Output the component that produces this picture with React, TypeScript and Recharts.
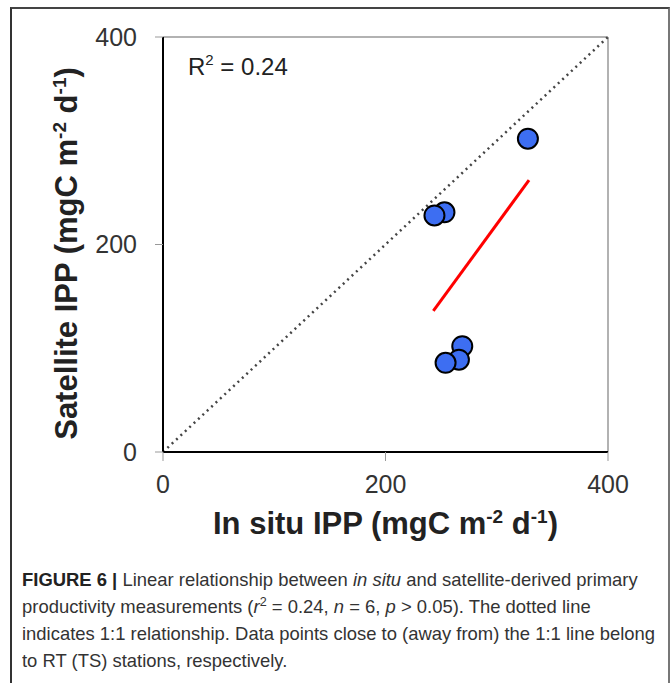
import React from "react";
import {
  Label,
  ReferenceLine,
  Scatter,
  ScatterChart,
  XAxis,
  YAxis,
} from "recharts";

// in situ vs satellite IPP (mgC m-2 d-1)
const inSitu = [328, 253, 244, 269, 266, 254];
const satellite = [302, 231, 228, 102, 89, 86];
// ends of the fitted regression line
const fitX = [243, 329];
const fitY = [136, 262];
const axisTicks = [0, 200, 400];

const points = inSitu.map((x, i) => ({ x, y: satellite[i] }));
const fit = fitX.map((x, i) => ({ x, y: fitY[i] }));

const FONT = '"Liberation Sans", Arial, sans-serif';

const Dot = (props: any) => (
  <circle
    cx={props.cx}
    cy={props.cy}
    r={10}
    fill="#3d6ef2"
    stroke="#000"
    strokeWidth={2}
  />
);

const XTitle = (props: any) => {
  const vb = props.viewBox;
  return (
    <text
      x={vb.x + vb.width / 2}
      y={vb.y + vb.height + 42}
      textAnchor="middle"
      fontFamily={FONT}
      fontWeight="bold"
      fontSize={31}
      fill="#222"
    >
      In situ IPP (mgC m
      <tspan dy={-11} fontSize={19}>-2</tspan>
      <tspan dy={11}> d</tspan>
      <tspan dy={-11} fontSize={19}>-1</tspan>
      <tspan dy={11}>)</tspan>
    </text>
  );
};

const YTitle = (props: any) => {
  const vb = props.viewBox;
  const x = 77;
  const y = vb.y + vb.height / 2 + 9;
  return (
    <text
      x={x}
      y={y}
      transform={`rotate(-90 ${x} ${y})`}
      textAnchor="middle"
      fontFamily={FONT}
      fontWeight="bold"
      fontSize={31}
      fill="#222"
    >
      Satellite IPP (mgC m
      <tspan dy={-11} fontSize={19}>-2</tspan>
      <tspan dy={11}> d</tspan>
      <tspan dy={-11} fontSize={19}>-1</tspan>
      <tspan dy={11}>)</tspan>
    </text>
  );
};

export default function App() {
  return (
    <div
      style={{
        position: "absolute",
        left: 0,
        top: 0,
        width: 670,
        height: 683,
        overflow: "hidden",
        background: "#fff",
      }}
    >
      <div
        style={{
          position: "absolute",
          left: 10,
          top: 7,
          width: 656,
          height: 700,
          borderTop: "2px solid #444",
          borderLeft: "2px solid #333",
          borderRight: "2px solid #777",
        }}
      />
      <ScatterChart
        width={670}
        height={560}
        margin={{ top: 37, right: 62, bottom: 68, left: 103 }}
        style={{ position: "absolute", left: 0, top: 0 }}
      >
        <XAxis
          type="number"
          dataKey="x"
          domain={[0, 400]}
          ticks={axisTicks}
          height={40}
          axisLine={{ stroke: "#000", strokeWidth: 2 }}
          tickLine={{ stroke: "#999" }}
          tickSize={9}
          tickMargin={14}
          tick={{ fill: "#333", fontSize: 25, fontFamily: FONT }}
        >
          <Label content={XTitle} />
        </XAxis>
        <YAxis
          type="number"
          dataKey="y"
          domain={[0, 400]}
          ticks={axisTicks}
          width={60}
          axisLine={{ stroke: "#000", strokeWidth: 2 }}
          tickLine={{ stroke: "#999" }}
          tickSize={8}
          tickMargin={18}
          tick={{ fill: "#333", fontSize: 25, fontFamily: FONT }}
        >
          <Label content={YTitle} />
        </YAxis>
        <ReferenceLine y={400} stroke="#999" strokeWidth={1.5} />
        <ReferenceLine x={400} stroke="#999" strokeWidth={1.5} />
        <ReferenceLine
          segment={[
            { x: 0, y: 0 },
            { x: 400, y: 400 },
          ]}
          stroke="#444"
          strokeWidth={2.5}
          strokeDasharray="2 4"
        />
        <Scatter
          data={fit}
          line={{ stroke: "#f00", strokeWidth: 3 }}
          shape={() => <g />}
          isAnimationActive={false}
        />
        <Scatter data={points} shape={Dot} isAnimationActive={false} />
      </ScatterChart>
      <div
        style={{
          position: "absolute",
          left: 188,
          top: 53,
          fontFamily: FONT,
          fontSize: 24,
          color: "#222",
          whiteSpace: "nowrap",
        }}
      >
        R<sup style={{ fontSize: 15, verticalAlign: 10, lineHeight: 0 }}>2</sup> = 0.24
      </div>
      <div
        style={{
          position: "absolute",
          left: 22,
          top: 566,
          fontFamily: FONT,
          fontSize: 19,
          lineHeight: "27px",
          color: "#333",
          whiteSpace: "nowrap",
          transform: "scaleX(0.97)",
          transformOrigin: "0 0",
        }}
      >
        <b style={{ color: "#222" }}>FIGURE 6 |</b> Linear relationship between{" "}
        <i>in situ</i> and satellite-derived primary
        <br />
        productivity measurements (<i>r</i>
        <sup style={{ fontSize: 13, lineHeight: 0 }}>2</sup> = 0.24, <i>n</i> = 6,{" "}
        <i>p</i> &gt; 0.05). The dotted line
        <br />
        indicates 1:1 relationship. Data points close to (away from) the 1:1 line belong
        <br />
        to RT (TS) stations, respectively.
      </div>
    </div>
  );
}
